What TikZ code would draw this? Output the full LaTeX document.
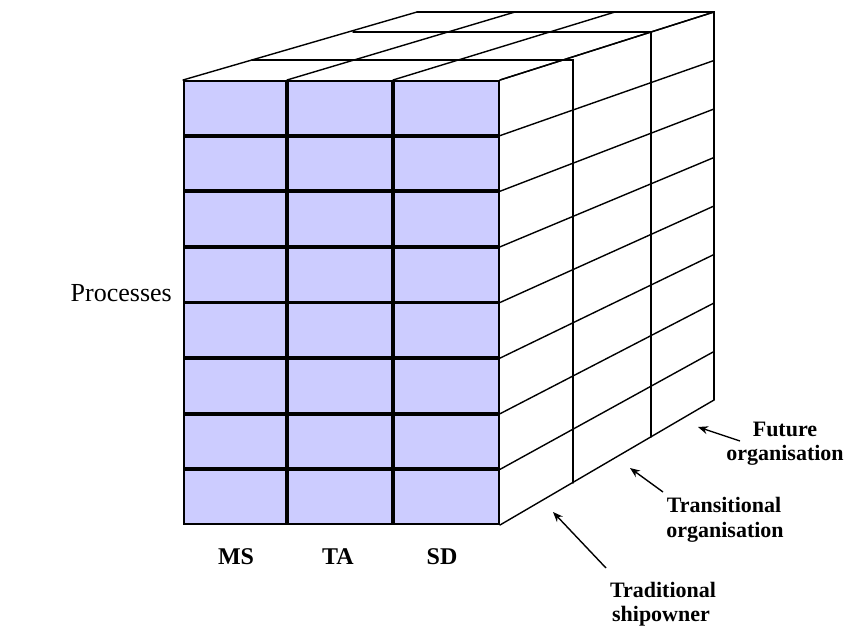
\documentclass[tikz,border=0pt]{standalone}
\usepackage{fontspec}
\setmainfont{Liberation Serif}
\usetikzlibrary{arrows.meta}
\definecolor{cellblue}{HTML}{CCCCFF}
\begin{document}
\begin{tikzpicture}[x=1pt,y=-1pt,
  edge/.style={line width=1.4pt, line cap=round, line join=miter},
  cell/.style={draw=black, fill=cellblue, line width=1.9pt},
  lab/.style={font=\fontsize{22}{25}\selectfont\bfseries, inner sep=0pt, anchor=base},
  collab/.style={font=\fontsize{24}{26}\selectfont\bfseries, inner sep=0pt, anchor=base},
  pointer/.style={line width=1.4pt, -{Stealth[length=10pt,width=8pt]}}]
\useasboundingbox[fill=white] (0,0) rectangle (849,628);

% top face: depth lines from front columns to back columns
\foreach \fx/\bx in {183/417, 287/515, 393/615, 500/714}
  \draw[edge] (\fx,80) -- (\bx,12);
% depth slices
\draw[edge] (252,60) -- (573,60) -- (573,483);
\draw[edge] (353,32) -- (651,32) -- (651,437);
\draw[edge] (417,12) -- (714,12) -- (714,400);
% right face rows
\foreach \i in {0,...,8}
  \draw[edge] (500,{80+\i*55.625}) -- (714,{12+\i*48.5});

% front face cells
\foreach \xl/\xr in {183/287, 287/393, 393/500}
  \foreach \i in {0,...,7}
    \draw[cell] ({\xl+0.95},{80+\i*55.625+0.95}) rectangle ({\xr-0.95},{80+(\i+1)*55.625-0.95});

% column labels
\node[collab] (ms) at (236,564) {MS};
\node[collab] (ta) at (338,564) {TA};
\node[collab] (sd) at (442,564) {SD};

% row label
\node[font=\fontsize{26}{28}\selectfont, anchor=base east, inner sep=0pt] (proc) at (172,302) {Processes};

% organisation labels
\node[lab] (fut1) at (785,436) {Future};
\node[lab] (fut2) at (785,460) {organisation};
\node[lab] (tra1) at (724,512) {Transitional};
\node[lab] (tra2) at (725,537) {organisation};
\node[lab] (tdl1) at (663,597) {Traditional};
\node[lab] (tdl2) at (661,621) {shipowner};

% pointers
\coordinate (futtail) at (740,441);
\coordinate (futtip) at (698,427);
\coordinate (tratail) at (663,492);
\coordinate (tratip) at (630,468);
\coordinate (tdltail) at (606,568);
\coordinate (tdltip) at (553,512);
\draw[pointer] (futtail) -- (futtip);
\draw[pointer] (tratail) -- (tratip);
\draw[pointer] (tdltail) -- (tdltip);
\end{tikzpicture}
\end{document}
